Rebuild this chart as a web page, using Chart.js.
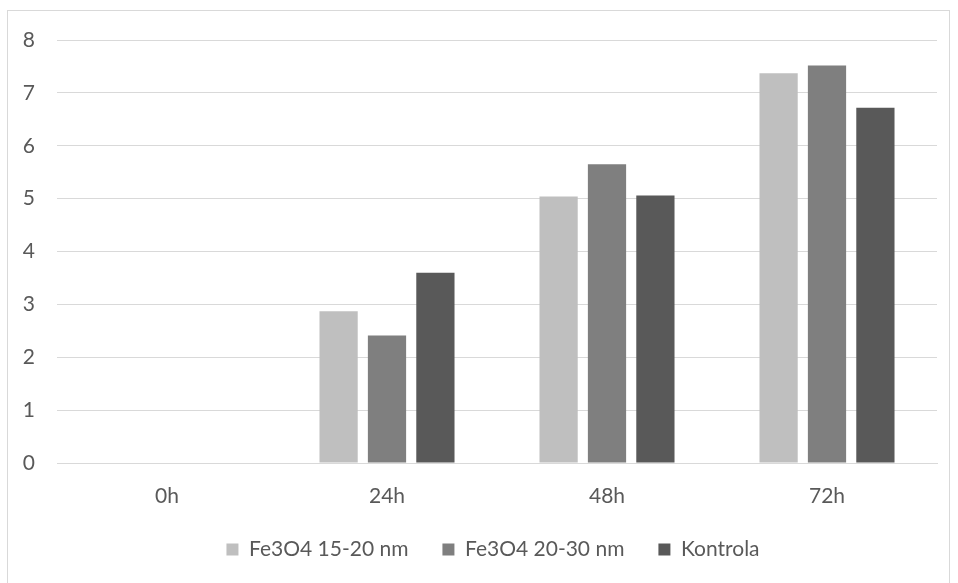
<!DOCTYPE html>
<html>
<head>
<meta charset="utf-8">
<script src="https://cdn.jsdelivr.net/npm/chart.js@4/dist/chart.umd.min.js"></script>
<style>
  html, body { margin: 0; padding: 0; background: #ffffff; }
  #wrap { position: relative; width: 958px; height: 583px; }
</style>
</head>
<body>
<div id="wrap"><canvas id="chart" width="958" height="583"></canvas></div>
<script>
// Sampling times
const categories = ['0h', '24h', '48h', '72h'];

// Series values (no measurement drawn at 0h)
const fe15_20 = [null, 2.87, 5.04, 7.37];
const fe20_30 = [null, 2.41, 5.65, 7.52];
const kontrola = [null, 3.60, 5.06, 6.72];

const seriesNames = ['Fe3O4 15-20 nm', 'Fe3O4 20-30 nm', 'Kontrola'];
const seriesColors = ['#bfbfbf', '#7f7f7f', '#595959'];

const yMin = 0, yMax = 8, yStep = 1;

const textColor = '#595959';
const gridColor = '#d9d9d9';
const fontFamily = 'Lato, "Liberation Sans", sans-serif';
const fontSize = 21;

// Thin frame around the whole chart
const framePlugin = {
  id: 'frame',
  beforeDraw(chart) {
    const ctx = chart.ctx;
    ctx.save();
    ctx.fillStyle = '#ffffff';
    ctx.fillRect(0, 0, chart.width, chart.height);
    ctx.strokeStyle = '#d9d9d9';
    ctx.lineWidth = 1;
    ctx.strokeRect(7.5, 10.5, 942, 620);
    ctx.restore();
  }
};

// Centre the legend under the plot area rather than the full canvas
const legendShift = {
  id: 'legendShift',
  afterLayout(chart) {
    const lg = chart.legend;
    if (lg) { lg.left = chart.chartArea.left - 8; }
  }
};

new Chart(document.getElementById('chart'), {
  type: 'bar',
  data: {
    labels: categories,
    datasets: [
      { label: seriesNames[0], data: fe15_20, backgroundColor: seriesColors[0] },
      { label: seriesNames[1], data: fe20_30, backgroundColor: seriesColors[1] },
      { label: seriesNames[2], data: kontrola, backgroundColor: seriesColors[2] }
    ]
  },
  options: {
    responsive: false,
    animation: false,
    devicePixelRatio: 1,
    datasets: {
      bar: { categoryPercentage: 0.66, barPercentage: 0.79, borderWidth: 0 }
    },
    layout: { padding: { top: 40, right: 21, bottom: 13, left: 0 } },
    plugins: {
      tooltip: { enabled: false },
      legend: {
        position: 'bottom',
        labels: {
          color: textColor,
          font: { family: fontFamily, size: fontSize },
          boxWidth: 12,
          boxHeight: 12,
          padding: 34,
          useBorderRadius: false
        }
      }
    },
    scales: {
      x: {
        grid: { display: false, drawTicks: false },
        border: { display: true, color: gridColor, width: 1 },
        ticks: { color: textColor, font: { family: fontFamily, size: fontSize }, padding: 21 },
        afterFit(scale) { scale.height = 42; }
      },
      y: {
        min: yMin,
        max: yMax,
        ticks: {
          stepSize: yStep,
          color: textColor,
          font: { family: fontFamily, size: fontSize },
          padding: 22
        },
        grid: { color: gridColor, lineWidth: 1, drawTicks: false },
        border: { display: false },
        afterFit(scale) { scale.width = 57; }
      }
    }
  },
  plugins: [framePlugin, legendShift]
});
</script>
</body>
</html>
